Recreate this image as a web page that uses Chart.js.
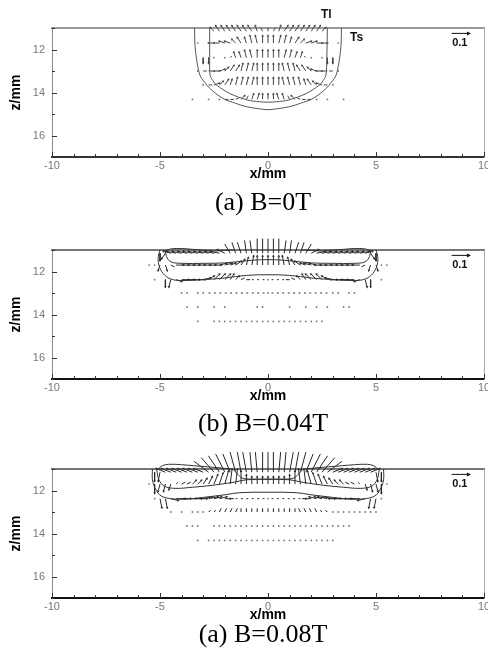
<!DOCTYPE html>
<html>
<head>
<meta charset="utf-8">
<script src="https://cdn.jsdelivr.net/npm/chart.js@4.4.0/dist/chart.umd.min.js"></script>
<style>
  body { margin: 0; background: #fff; width: 488px; height: 655px; position: relative; overflow: hidden; }
  .panel { position: absolute; left: 0; width: 488px; height: 190px; }
  .caption { position: absolute; left: 263px; transform: translateX(-50%); font: 26px "Liberation Serif", "Times New Roman", serif; line-height: 30px; white-space: nowrap; color: #000; }
</style>
</head>
<body>
<div class="panel" style="top:0px"><canvas id="c1" width="488" height="190"></canvas></div>
<div class="panel" style="top:222px"><canvas id="c2" width="488" height="190"></canvas></div>
<div class="panel" style="top:441px"><canvas id="c3" width="488" height="190"></canvas></div>
<div class="caption" id="cap1" style="top:187px"></div>
<div class="caption" id="cap2" style="top:408px"></div>
<div class="caption" id="cap3" style="top:619px"></div>
<script>
const N = null;

// axes
const xTicks = [-10, -5, 0, 5, 10];
const zTicks = [12, 14, 16];
const captions = ['(a) B=0T', '(b) B=0.04T', '(a) B=0.08T'];

// grid nodes of the velocity field (mm)
const xNodes = [-5.5,-5.25,-5,-4.75,-4.5,-4.25,-4,-3.75,-3.5,-3.25,-3,-2.75,-2.5,-2.25,-2,-1.75,-1.5,-1.25,-1,-0.75,-0.5,-0.25,0,
                0.25,0.5,0.75,1,1.25,1.5,1.75,2,2.25,2.5,2.75,3,3.25,3.5,3.75,4,4.25,4.5,4.75,5,5.25,5.5];
const zRows = [11.15, 11.7, 12.38, 13.0, 13.65, 14.32];

// velocity components, cm/s (u to the right, w downwards in z); null = no vector
const p1U = [
  [N,N,N,N,N,N,N,N,N,N,N,N,-2,-2,-2,-2,-2,-2,-2,-2,-1,-1,0,1,1,2,2,2,2,2,2,2,2,N,N,N,N,N,N,N,N,N,N,N,N],
  [N,N,N,N,N,N,N,N,N,0,N,N,-3,-3,-3,-3,-2,-2,-1,-1,-1,0,0,0,1,1,1,2,2,3,3,3,3,N,N,0,N,N,N,N,N,N,N,N,N],
  [N,N,N,N,N,N,N,N,N,N,0,0,0,N,0,1,-1,-1,-1,-1,0,0,0,0,0,1,1,1,1,-1,0,N,0,0,0,N,N,N,N,N,N,N,N,N,N],
  [N,N,N,N,N,N,N,N,N,0,2,3,3,3,2,2,2,1,1,1,0,0,0,0,0,-1,-1,-1,-2,-2,-2,-3,-3,-3,-2,0,N,N,N,N,N,N,N,N,N],
  [N,N,N,N,N,N,N,N,N,N,0,2,3,2,2,1,1,1,1,1,0,0,0,0,0,-1,-1,-1,-1,-1,-2,-2,-3,-2,0,N,N,N,N,N,N,N,N,N,N],
  [N,N,N,N,N,N,N,N,0,N,N,0,N,0,2,2,2,2,1,1,1,0,0,0,-1,-1,-1,-2,-2,-2,-2,0,N,0,N,N,0,N,N,N,N,N,N,N,N]
];
const p1W = [
  [N,N,N,N,N,N,N,N,N,N,N,N,-2,-3,-3,-3,-3,-3,-3,-3,-3,-2,-2,-2,-3,-3,-3,-3,-3,-3,-3,-3,-2,N,N,N,N,N,N,N,N,N,N,N,N],
  [N,N,N,N,N,N,N,N,N,0,N,N,0,0,-1,-1,-2,-3,-3,-4,-4,-4,-4,-4,-4,-4,-3,-3,-2,-1,-1,0,0,N,N,0,N,N,N,N,N,N,N,N,N],
  [N,N,N,N,N,N,N,N,N,N,3,3,0,N,0,-1,-3,-3,-4,-4,-4,-4,-4,-4,-4,-4,-4,-3,-3,-1,0,N,0,3,3,N,N,N,N,N,N,N,N,N,N],
  [N,N,N,N,N,N,N,N,N,0,0,0,0,-1,-2,-3,-3,-4,-4,-4,-4,-4,-4,-4,-4,-4,-4,-4,-3,-3,-2,-1,0,0,0,0,N,N,N,N,N,N,N,N,N],
  [N,N,N,N,N,N,N,N,N,N,0,0,-1,-2,-3,-3,-4,-4,-4,-4,-4,-4,-4,-4,-4,-4,-4,-4,-4,-3,-3,-2,-1,0,0,N,N,N,N,N,N,N,N,N,N],
  [N,N,N,N,N,N,N,N,0,N,N,0,N,0,0,0,-1,-2,-2,-3,-3,-3,-3,-3,-3,-3,-2,-2,-1,0,0,0,N,0,N,N,0,N,N,N,N,N,N,N,N]
];

const p2U = [
  [N,N,0,-2,-4,-5,-5,-5,-5,-5,-5,-5,-5,-5,-4,-3,-2,-2,-1,-1,0,0,0,0,0,1,1,2,2,3,4,5,5,5,5,5,5,5,5,5,4,2,0,N,N],
  [0,0,-1,1,2,4,4,4,4,4,4,4,4,4,4,3,3,2,1,1,0,0,0,0,0,-1,-1,-2,-3,-3,-4,-4,-4,-4,-4,-4,-4,-4,-4,-4,-2,-1,1,0,0],
  [N,0,N,0,-1,3,4,4,4,4,4,3,3,3,3,2,2,2,2,1,1,1,0,-1,-1,-1,-2,-2,-2,-2,-3,-3,-3,-3,-4,-4,-4,-4,-4,-3,1,0,N,0,N],
  [N,N,N,N,N,N,0,0,N,0,0,1,1,1,1,1,1,1,1,1,1,1,0,-1,-1,-1,-1,-1,-1,-1,-1,-1,-1,-1,0,0,N,0,0,N,N,N,N,N,N],
  [N,N,N,N,N,N,N,0,N,0,N,N,0,N,0,N,N,N,N,N,0,0,N,N,N,N,0,N,N,0,N,0,N,0,N,N,0,0,N,N,N,N,N,N,N],
  [N,N,N,N,N,N,N,N,N,0,N,N,0,0,0,0,0,0,0,0,0,0,0,0,0,0,0,0,0,0,0,0,0,N,N,N,N,N,N,N,N,N,N,N,N]
];
const p2W = [
  [N,N,4,3,-1,-1,-1,-1,-1,-1,-1,-1,-1,-1,-2,-5,-6,-6,-7,-7,-8,-8,-8,-8,-8,-7,-7,-6,-6,-5,-2,-1,-1,-1,-1,-1,-1,-1,-1,-1,-1,3,4,N,N],
  [0,0,3,3,1,0,0,0,0,0,0,0,0,-1,-1,-1,-2,-3,-4,-5,-5,-5,-5,-5,-5,-5,-4,-3,-2,-1,-1,-1,0,0,0,0,0,0,0,0,1,3,3,0,0],
  [N,0,N,4,4,1,0,0,0,0,-1,-2,-3,-3,-3,-3,-2,-1,0,0,0,0,0,0,0,0,0,-1,-2,-3,-3,-3,-3,-2,-1,0,0,0,0,1,4,4,N,0,N],
  [N,N,N,N,N,N,0,0,N,0,0,0,0,0,0,0,0,0,0,0,0,0,0,0,0,0,0,0,0,0,0,0,0,0,0,0,N,0,0,N,N,N,N,N,N],
  [N,N,N,N,N,N,N,0,N,0,N,N,0,N,0,N,N,N,N,N,0,0,N,N,N,N,0,N,N,0,N,0,N,0,N,N,0,0,N,N,N,N,N,N,N],
  [N,N,N,N,N,N,N,N,N,0,N,N,0,0,0,0,0,0,0,0,0,0,0,0,0,0,0,0,0,0,0,0,0,N,N,N,N,N,N,N,N,N,N,N,N]
];

const p3U = [
  [N,0,-1,-5,-5,-5,-5,-5,-5,-5,-5,-8,-7,-6,-5,-4,-3,-2,-2,-1,-1,0,0,0,1,1,2,2,3,4,5,6,7,8,5,5,5,5,5,5,5,5,1,0,N],
  [0,0,-1,-1,-1,1,2,2,2,2,2,2,2,2,2,1,1,0,0,0,0,0,0,0,0,0,0,0,-1,-1,-2,-2,-2,-2,-2,-2,-2,-2,-2,-1,1,1,1,0,0],
  [N,0,1,1,4,5,5,5,5,5,5,5,4,4,3,2,1,1,1,1,1,1,0,-1,-1,-1,-1,-1,-1,-2,-3,-4,-4,-5,-5,-5,-5,-5,-5,-5,-4,-1,-1,0,N],
  [N,N,N,N,0,N,0,N,0,0,0,1,1,1,1,1,1,0,0,0,0,0,0,0,0,0,0,0,-1,-1,-1,-1,-1,-1,0,0,0,0,0,0,0,0,0,N,N],
  [N,N,N,N,N,N,N,0,0,0,N,N,0,0,0,0,0,0,0,0,0,0,0,0,0,0,0,0,0,0,0,0,0,0,0,0,0,0,N,N,N,N,N,N,N],
  [N,N,N,N,N,N,N,N,N,0,N,0,0,0,0,0,0,0,0,0,0,0,0,0,0,0,0,0,0,0,0,0,0,0,0,N,N,N,N,N,N,N,N,N,N]
];
const p3W = [
  [N,5,5,-2,-2,-2,-2,-2,-2,-2,-2,-6,-8,-9,-10,-10,-11,-11,-11,-11,-11,-11,-11,-11,-11,-11,-11,-11,-11,-10,-10,-9,-8,-6,-2,-2,-2,-2,-2,-2,-2,-2,5,5,N],
  [0,5,4,4,3,-1,-1,-1,-2,-2,-3,-4,-5,-6,-7,-8,-8,-7,-5,-4,-4,-4,-4,-4,-4,-4,-5,-7,-8,-8,-7,-6,-5,-4,-3,-2,-2,-1,-1,-1,3,4,4,5,0],
  [N,0,5,5,1,0,0,0,0,0,-1,-1,-1,-1,0,0,0,0,0,0,0,0,0,0,0,0,0,0,0,0,0,-1,-1,-1,-1,0,0,0,0,0,1,5,5,0,N],
  [N,N,N,N,0,N,0,N,0,0,0,-1,-1,-2,-2,-2,-2,-2,-2,-2,-2,-2,-2,-2,-2,-2,-2,-2,-2,-2,-2,-2,-1,-1,0,0,0,0,0,0,0,0,0,N,N],
  [N,N,N,N,N,N,N,0,0,0,N,N,0,0,0,0,0,0,0,0,0,0,0,0,0,0,0,0,0,0,0,0,0,0,0,0,0,0,N,N,N,N,N,N,N],
  [N,N,N,N,N,N,N,N,N,0,N,0,0,0,0,0,0,0,0,0,0,0,0,0,0,0,0,0,0,0,0,0,0,0,0,N,N,N,N,N,N,N,N,N,N]
];

// isotherms (x mm, z mm)
const p1TsX = [-3.4,-3.38,-3.3,-3.15,-2.95,-2.7,-2.1,-1.5,-1.0,-0.4,0,0.4,1.0,1.5,2.1,2.7,2.95,3.15,3.3,3.38,3.4];
const p1TsZ = [11.0,11.8,12.5,13.2,13.5,13.8,14.27,14.5,14.66,14.76,14.8,14.76,14.66,14.5,14.27,13.8,13.5,13.2,12.5,11.8,11.0];
const p1TlX = [-2.7,-2.7,-2.68,-2.55,-2.39,-1.78,-0.95,-0.4,0,0.4,0.95,1.78,2.39,2.55,2.68,2.72,2.75];
const p1TlZ = [11.0,12.5,13.2,13.45,13.65,14.04,14.35,14.43,14.45,14.43,14.35,14.04,13.65,13.45,13.2,12.5,11.0];

const p2TsX = [-5.0,-5.08,-5.05,-4.85,-4.5,-4.0,-3.0,-2.0,-1.0,0,1.0,2.0,3.0,4.0,4.5,4.85,5.05,5.08,5.0];
const p2TsZ = [11.0,11.3,11.7,12.1,12.35,12.42,12.38,12.3,12.18,12.15,12.18,12.3,12.38,12.42,12.35,12.1,11.7,11.3,11.0];
const p2TlX = [-4.75,-4.7,-4.5,-4.0,-3.0,-2.0,-1.0,-0.3,0,0.3,1.0,2.0,3.0,4.0,4.5,4.7,4.75];
const p2TlZ = [11.0,11.3,11.55,11.62,11.62,11.6,11.5,11.45,11.45,11.45,11.5,11.6,11.62,11.62,11.55,11.3,11.0];
const p2SurfLX = [-4.8,-4.5,-4.0,-3.5,-3.0,-2.5,-2.0,-1.6];
const p2SurfLZ = [11.05,10.95,10.93,10.97,11.0,11.05,11.02,11.0];
const p2SurfRX = [1.6,2.0,2.5,3.0,3.5,4.0,4.5,4.8];
const p2SurfRZ = [11.0,11.02,11.05,11.0,10.97,10.93,10.95,11.05];

const p3TsX = [-5.35,-5.35,-5.2,-4.95,-4.5,-3.8,-3.0,-2.0,-1.3,0,1.3,2.0,3.0,3.8,4.5,4.95,5.2,5.35,5.35];
const p3TsZ = [11.0,11.5,11.95,12.25,12.38,12.4,12.32,12.2,12.1,12.08,12.1,12.2,12.32,12.4,12.38,12.25,11.95,11.5,11.0];
const p3LensX = [-5.15,-5.05,-4.8,-4.3,-3.5,-2.5,-1.5,-1.0,0,1.0,1.5,2.5,3.5,4.3,4.8,5.05,5.15];
const p3LensZ = [11.05,11.5,11.8,11.9,11.85,11.75,11.6,11.5,11.48,11.5,11.6,11.75,11.85,11.9,11.8,11.5,11.05];
const p3CoreX = [-1.6,-1.4,-1.2,-0.8,0,0.8,1.2,1.4,1.6];
const p3CoreZ = [11.0,11.25,11.42,11.47,11.47,11.47,11.42,11.25,11.0];
const p3SurfLX = [-5.15,-4.9,-4.6,-4.0,-3.4,-2.8,-2.2,-1.7];
const p3SurfLZ = [11.05,10.85,10.78,10.8,10.85,10.9,10.95,11.0];
const p3SurfRX = [1.7,2.2,2.8,3.4,4.0,4.6,4.9,5.15];
const p3SurfRZ = [11.0,10.95,10.9,10.85,10.8,10.78,10.85,11.05];

const vecScale = 0.085;   // mm drawn per cm/s
const refVector = 10;     // reference arrow: 0.1 m/s

Chart.defaults.font.family = '"Liberation Sans", Arial, sans-serif';

function buildVectors(U, W) {
  const shafts = [], heads = [], rot = [], dots = [];
  zRows.forEach((z, r) => {
    if (U[r].length !== xNodes.length || W[r].length !== xNodes.length) {
      throw new Error('row ' + r + ' length ' + U[r].length + '/' + W[r].length);
    }
    xNodes.forEach((x, i) => {
      const u = U[r][i], w = W[r][i];
      if (u === null || w === null) return;
      if (u === 0 && w === 0) { dots.push({x, y: z}); return; }
      const x2 = x + u * vecScale, z2 = z + w * vecScale;
      shafts.push({x, y: z}, {x: x2, y: z2}, {x: null, y: null});
      if (Math.hypot(u, w) >= 2.5) {
        heads.push({x: x2, y: z2});
        rot.push(Math.atan2(u, -w) * 180 / Math.PI);
      }
    });
  });
  return {shafts, heads, rot, dots};
}

const panelDeco = {
  id: 'panelDeco',
  beforeDatasetsDraw(chart) {
    const {ctx, chartArea: a, scales: {x, y}} = chart;
    ctx.save();
    ctx.strokeStyle = '#333';
    ctx.lineWidth = 1;
    ctx.beginPath();
    for (let v = -10; v <= 10; v++) {
      const px = Math.round(x.getPixelForValue(v)) + 0.5;
      const len = v % 5 === 0 ? 5 : 3;
      ctx.moveTo(px, a.bottom);
      ctx.lineTo(px, a.bottom - len);
    }
    for (let v = 11; v <= 17; v++) {
      const py = Math.round(y.getPixelForValue(v)) + 0.5;
      const len = v % 2 === 0 ? 5 : 3;
      ctx.moveTo(a.left, py);
      ctx.lineTo(a.left + len, py);
    }
    ctx.stroke();
    ctx.restore();
  },
  afterDatasetsDraw(chart, args, o) {
    const {ctx, scales: {x, y}} = chart;
    ctx.save();
    // reference vector
    const x0 = x.getPixelForValue(8.5), y0 = y.getPixelForValue(11.25);
    const x1 = x.getPixelForValue(8.5 + refVector * vecScale);
    ctx.strokeStyle = '#111';
    ctx.fillStyle = '#111';
    ctx.lineWidth = 1;
    ctx.beginPath();
    ctx.moveTo(x0, y0);
    ctx.lineTo(x1, y0);
    ctx.stroke();
    ctx.beginPath();
    ctx.moveTo(x1 + 1, y0);
    ctx.lineTo(x1 - 3, y0 - 2);
    ctx.lineTo(x1 - 3, y0 + 2);
    ctx.closePath();
    ctx.fill();
    ctx.font = 'bold 11px "Liberation Sans", Arial, sans-serif';
    ctx.textAlign = 'center';
    ctx.textBaseline = 'middle';
    ctx.fillText('0.1', (x0 + x1) / 2 - 1, y.getPixelForValue(11.68));
    // isotherm labels
    ctx.font = 'bold 12px "Liberation Sans", Arial, sans-serif';
    (o.labels || []).forEach(l => {
      ctx.fillText(l.text, x.getPixelForValue(l.x), y.getPixelForValue(l.z));
    });
    ctx.restore();
  }
};

function makePanel(id, U, W, lines, style) {
  const v = buildVectors(U, W);
  const datasets = lines.map(([xs, zs]) => ({
    data: xs.map((x, i) => ({x, y: zs[i]})),
    showLine: true,
    borderColor: style.lineColor,
    borderWidth: 1,
    pointRadius: 0,
    tension: 0.35,
    clip: false
  }));
  datasets.push({
    data: v.shafts, showLine: true, spanGaps: false,
    borderColor: style.arrowColor, borderWidth: 1, pointRadius: 0, clip: false
  });
  datasets.push({
    data: v.heads, pointStyle: 'triangle', pointRadius: 1.5, rotation: v.rot,
    backgroundColor: style.arrowColor, borderWidth: 0, clip: false
  });
  datasets.push({
    data: v.dots, pointRadius: 0.9, backgroundColor: '#777', borderWidth: 0
  });

  return new Chart(document.getElementById(id), {
    type: 'scatter',
    data: { datasets },
    options: {
      responsive: false,
      devicePixelRatio: 1,
      animation: false,
      events: [],
      layout: { padding: { top: 28, right: 3, bottom: 7, left: 0 } },
      plugins: {
        legend: { display: false },
        tooltip: { enabled: false },
        panelDeco: { labels: style.labels }
      },
      scales: {
        x: {
          type: 'linear', position: 'bottom', min: -10, max: 10,
          afterBuildTicks(s) { s.ticks = xTicks.map(value => ({value})); },
          ticks: { color: '#777', font: { size: 11 }, padding: 2, maxRotation: 0, autoSkip: false },
          grid: { display: false, drawTicks: false },
          border: { display: true, color: style.bottomColor, width: 2 },
          title: { display: true, text: 'x/mm', color: '#000', font: { size: 14, weight: 'bold' }, padding: 0 },
          afterFit(s) { s.height = 26; s.paddingLeft = 0; s.paddingRight = 0; }
        },
        xTop: {
          type: 'linear', position: 'top', min: -10, max: 10,
          ticks: { display: false },
          grid: { display: false, drawTicks: false },
          border: { display: true, color: style.topColor, width: 2 },
          afterFit(s) { s.height = 0; s.paddingLeft = 0; s.paddingRight = 0; }
        },
        y: {
          type: 'linear', position: 'left', reverse: true, min: 11, max: 17,
          afterBuildTicks(s) { s.ticks = zTicks.map(value => ({value})); },
          ticks: { color: '#777', font: { size: 11 }, padding: 7 },
          grid: { display: false, drawTicks: false },
          border: { display: true, color: '#8a8a8a', width: 1 },
          title: { display: true, text: 'z/mm', color: '#000', font: { size: 14, weight: 'bold' }, padding: { top: 8, bottom: 0 } },
          afterFit(s) { s.width = 52; s.paddingTop = 0; s.paddingBottom = 0; }
        },
        yRight: {
          type: 'linear', position: 'right', reverse: true, min: 11, max: 17,
          ticks: { display: false },
          grid: { display: false, drawTicks: false },
          border: { display: true, color: '#aaa', width: 1 },
          afterFit(s) { s.width = 0; s.paddingTop = 0; s.paddingBottom = 0; }
        }
      }
    },
    plugins: [panelDeco]
  });
}

makePanel('c1', p1U, p1W, [[p1TsX, p1TsZ], [p1TlX, p1TlZ]], {
  lineColor: '#555', arrowColor: '#444', topColor: '#9a9a9a', bottomColor: '#333',
  labels: [{text: 'Tl', x: 2.7, z: 10.4}, {text: 'Ts', x: 4.1, z: 11.47}]
});
makePanel('c2', p2U, p2W, [[p2TsX, p2TsZ], [p2TlX, p2TlZ], [p2SurfLX, p2SurfLZ], [p2SurfRX, p2SurfRZ]], {
  lineColor: '#333', arrowColor: '#262626', topColor: '#777', bottomColor: '#111', labels: []
});
makePanel('c3', p3U, p3W, [[p3TsX, p3TsZ], [p3LensX, p3LensZ], [p3CoreX, p3CoreZ], [p3SurfLX, p3SurfLZ], [p3SurfRX, p3SurfRZ]], {
  lineColor: '#333', arrowColor: '#262626', topColor: '#777', bottomColor: '#111', labels: []
});

document.getElementById('cap1').textContent = captions[0];
document.getElementById('cap2').textContent = captions[1];
document.getElementById('cap3').textContent = captions[2];
</script>
</body>
</html>
